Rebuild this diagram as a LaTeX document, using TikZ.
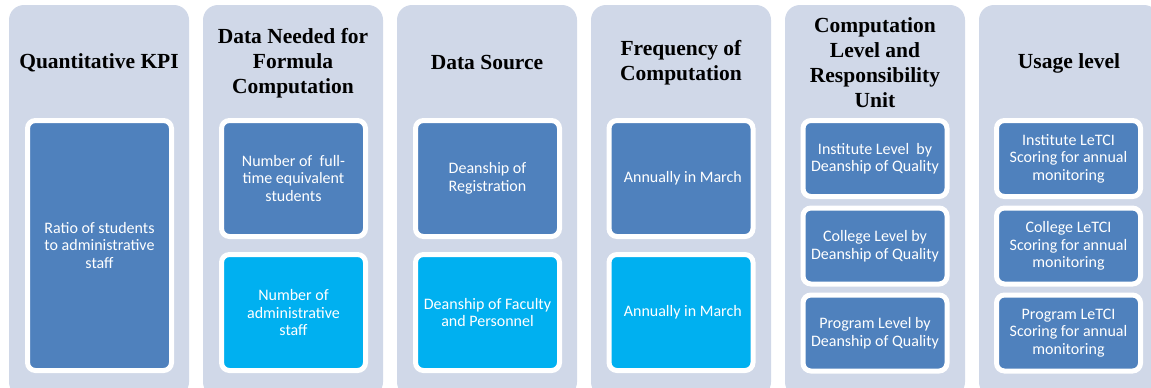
\documentclass[tikz,border=0pt]{standalone}
\usepackage{fontspec}
\setmainfont{Liberation Serif}
\newfontfamily\boxfont{Carlito}
\usetikzlibrary{positioning}
\definecolor{columngray}{RGB}{208,216,232}
\definecolor{darkbox}{RGB}{79,129,189}
\definecolor{lightbox}{RGB}{0,176,240}
\tikzset{column/.style = {fill=columngray, rounded corners=15pt, inner sep=0pt,
                          minimum width=180pt, minimum height=392pt},
         heading/.style = {font=\bfseries\fontsize{21.5}{25}\selectfont,
                           align=center},
         entry/.style = {draw=white, line width=5pt, rounded corners=8pt,
                         text=white, align=center, inner sep=0pt,
                         font=\boxfont\fontsize{16}{17.5}\selectfont,
                         minimum width=144pt},
         dark/.style = {entry, fill=darkbox},
         light/.style = {entry, fill=lightbox}}

\begin{document}
\begin{tikzpicture}[x=1pt, y=-1pt]
    \useasboundingbox (0, 0) rectangle (1151, 388);
    \foreach \i/\x in {1/99, 2/293, 3/487, 4/681, 5/875, 6/1069}
      \node [column] (col\i) at (\x, 201) {};
    \node [heading] (head1) at (99, 63) {Quantitative KPI};
    \node [heading] (head2) at (293, 63) {Data Needed for\\Formula\\Computation};
    \node [heading] (head3) at (487, 63) {Data Source};
    \node [heading] (head4) at (681, 63) {Frequency of\\Computation};
    \node [heading] (head5) at (875, 63) {Computation\\Level and\\Responsibility\\Unit};
    \node [heading] (head6) at (1069, 63) {Usage level};
    \node [dark, minimum height=250pt] (ratio) at (99.5, 245.5)
      {Ratio of students\\to administrative\\staff};
    \node [dark, minimum height=116pt] (fte) at (293.5, 178.5)
      {Number of\ \ full-\\time equivalent\\students};
    \node [light, minimum height=116pt] (staff) at (293.5, 312.5)
      {Number of\\administrative\\staff};
    \node [dark, minimum height=116pt] (registration) at (487.5, 178.5)
      {Deanship of\\Registration};
    \node [light, minimum height=116pt] (faculty) at (487.5, 312.5)
      {Deanship of Faculty\\and Personnel};
    \node [dark, minimum height=116pt] (march1) at (681, 178.5) {\ Annually in March};
    \node [light, minimum height=116pt] (march2) at (681, 312.5) {\ Annually in March};
    \node [dark, minimum height=76pt] (institute) at (875, 158.5)
      {Institute Level\ \ by\\Deanship of Quality};
    \node [dark, minimum height=76pt] (college) at (875, 246)
      {College Level by\\Deanship of Quality};
    \node [dark, minimum height=76pt] (program) at (875, 333)
      {Program Level by\\Deanship of Quality};
    \node [dark, minimum height=76pt] (instuse) at (1068.5, 158.5)
      {Institute LeTCI\\Scoring for annual\\monitoring};
    \node [dark, minimum height=76pt] (colluse) at (1068.5, 246)
      {College LeTCI\\Scoring for annual\\monitoring};
    \node [dark, minimum height=76pt] (proguse) at (1068.5, 333)
      {Program LeTCI\\Scoring for annual\\monitoring};
  \end{tikzpicture}
\end{document}
